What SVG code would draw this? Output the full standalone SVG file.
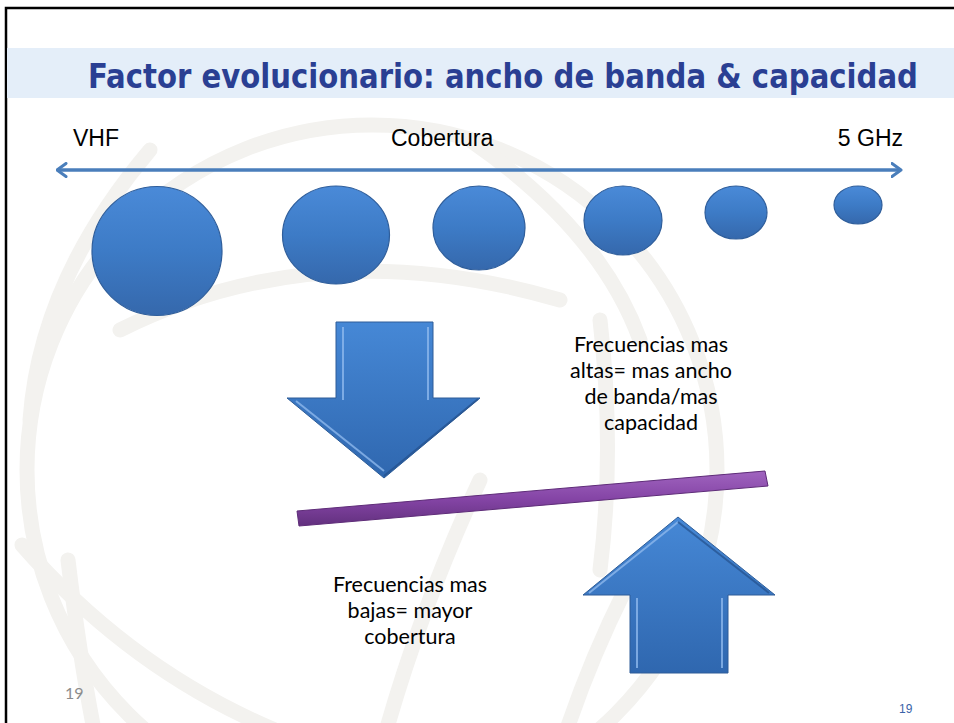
<svg xmlns="http://www.w3.org/2000/svg" width="954" height="723" viewBox="0 0 954 723">
  <defs>
    <style>
      .wm { fill: none; stroke: #F3F2EF; stroke-width: 15; stroke-linecap: round; }
      .arial { font-family: "Liberation Sans", Arial, sans-serif; font-size: 23px; fill: #000; }
      .body { font-family: Lato, "Open Sans", "Liberation Sans", sans-serif; font-size: 21.5px; fill: #000; text-anchor: middle; }
      .ball { fill: url(#gBall); stroke: #2F5E9B; stroke-width: 1.2; }
      .arrowBody { fill: url(#gArrow); stroke: #2E5D98; stroke-width: 1; }
      .hl { fill: none; stroke: #8DB8EC; stroke-width: 2; opacity: 0.8; }
      .dk { fill: none; stroke: #24508C; stroke-width: 2; opacity: 0.7; }
    </style>
    <linearGradient id="gBall" x1="0" y1="0" x2="0" y2="1">
      <stop offset="0" stop-color="#4A8AD8"/>
      <stop offset="0.5" stop-color="#3D7BC6"/>
      <stop offset="1" stop-color="#3568AC"/>
    </linearGradient>
    <linearGradient id="gArrow" x1="0" y1="0" x2="0" y2="1">
      <stop offset="0" stop-color="#4688D6"/>
      <stop offset="1" stop-color="#2F67AF"/>
    </linearGradient>
    <linearGradient id="gBar" x1="0" y1="0" x2="0" y2="1">
      <stop offset="0" stop-color="#A064BF"/>
      <stop offset="0.5" stop-color="#8545A6"/>
      <stop offset="1" stop-color="#62307E"/>
    </linearGradient>
    <marker id="chev" viewBox="0 0 12 16" refX="10.5" refY="8" markerWidth="12" markerHeight="16" markerUnits="userSpaceOnUse" orient="auto-start-reverse">
      <path d="M1.5,1.5 L10.5,8 L1.5,14.5" fill="none" stroke="#4A7EBB" stroke-width="3" stroke-linecap="round" stroke-linejoin="round"/>
    </marker>
  </defs>

  <rect x="0" y="0" width="954" height="723" fill="#FFFFFF"/>

  <!-- watermark globe -->
  <g id="watermark">
    <circle class="wm" cx="372" cy="470" r="345"/>
    <path class="wm" d="M22,545 Q140,680 300,740"/>
    <path class="wm" d="M68,560 Q80,660 95,735"/>
    <path class="wm" d="M120,330 Q320,230 560,300"/>
    <path class="wm" d="M470,140 Q600,230 640,340"/>
    <path class="wm" d="M600,320 Q615,450 600,570"/>
    <path class="wm" d="M480,480 Q420,610 385,735"/>
    <path class="wm" d="M625,590 Q590,660 565,735"/>
    <path class="wm" d="M150,150 Q40,280 30,420"/>
  </g>

  <!-- frame -->
  <path d="M6,730 V8 H960" fill="none" stroke="#000" stroke-width="2.5"/>

  <!-- title band -->
  <g id="title">
    <rect x="7" y="48" width="947" height="50" fill="#E4EEF9"/>
    <text x="88" y="88" font-family="'DejaVu Sans Condensed', 'DejaVu Sans', sans-serif" font-weight="bold" font-size="33" fill="#2A3F93" textLength="830" lengthAdjust="spacingAndGlyphs">Factor evolucionario: ancho de banda &amp; capacidad</text>
  </g>

  <!-- axis labels -->
  <g id="lbl-vhf"><text class="arial" x="73" y="146">VHF</text></g>
  <g id="lbl-cobertura"><text class="arial" x="391" y="146">Cobertura</text></g>
  <g id="lbl-5ghz"><text class="arial" x="903" y="146" text-anchor="end">5 GHz</text></g>

  <!-- connectors -->
  <g id="connectors">
    <line x1="57" y1="170" x2="901" y2="170" stroke="#4A7EBB" stroke-width="3.5" marker-start="url(#chev)" marker-end="url(#chev)"/>
  </g>

  <!-- circles -->
  <g id="c1"><ellipse class="ball" cx="157" cy="251" rx="65" ry="64.5"/></g>
  <g id="c2"><ellipse class="ball" cx="336" cy="235" rx="53.5" ry="49"/></g>
  <g id="c3"><ellipse class="ball" cx="479" cy="228" rx="46" ry="42"/></g>
  <g id="c4"><ellipse class="ball" cx="623" cy="220.5" rx="39" ry="34.5"/></g>
  <g id="c5"><ellipse class="ball" cx="736" cy="212.5" rx="31" ry="26.5"/></g>
  <g id="c6"><ellipse class="ball" cx="858" cy="205" rx="24" ry="19"/></g>

  <!-- down arrow -->
  <g id="arrow-down">
    <path class="arrowBody" d="M336,322 H433 V398 H480 L384,478 L287,398 H336 Z"/>
    <path class="hl" d="M343,327 V400"/>
    <path class="hl" d="M428,327 V400"/>
    <path class="hl" d="M296,401 L384,471"/>
    <path class="dk" d="M384,476 L478,399"/>
  </g>

  <!-- purple lever bar -->
  <g id="bar">
    <path d="M297,511 L765,471 L768,486 L299,526 Z" fill="url(#gBar)" stroke="#5E2C78" stroke-width="1"/>
  </g>

  <!-- up arrow -->
  <g id="arrow-up">
    <path class="arrowBody" d="M678,517 L775,595 H728 V673 H630 V595 H583 Z"/>
    <path class="hl" d="M589,593 L678,522"/>
    <path class="hl" d="M637,598 V668"/>
    <path class="hl" d="M722,598 V668"/>
    <path class="dk" d="M678,522 L769,593"/>
  </g>

  <!-- text blocks -->
  <g id="txt-altas">
    <text class="body" x="651" y="352">Frecuencias mas</text>
    <text class="body" x="651" y="378">altas= mas ancho</text>
    <text class="body" x="651" y="404">de banda/mas</text>
    <text class="body" x="651" y="430">capacidad</text>
  </g>
  <g id="txt-bajas">
    <text class="body" x="410" y="592">Frecuencias mas</text>
    <text class="body" x="410" y="618">bajas= mayor</text>
    <text class="body" x="410" y="644">cobertura</text>
  </g>

  <!-- page numbers -->
  <g id="pg-left"><text x="65" y="699" font-family="Lato, 'Open Sans', sans-serif" font-size="16" fill="#8C8C8C">19</text></g>
  <g id="pg-right"><text x="899" y="713" font-family="'Liberation Sans', Arial, sans-serif" font-size="12" fill="#3A63A8">19</text></g>
</svg>
